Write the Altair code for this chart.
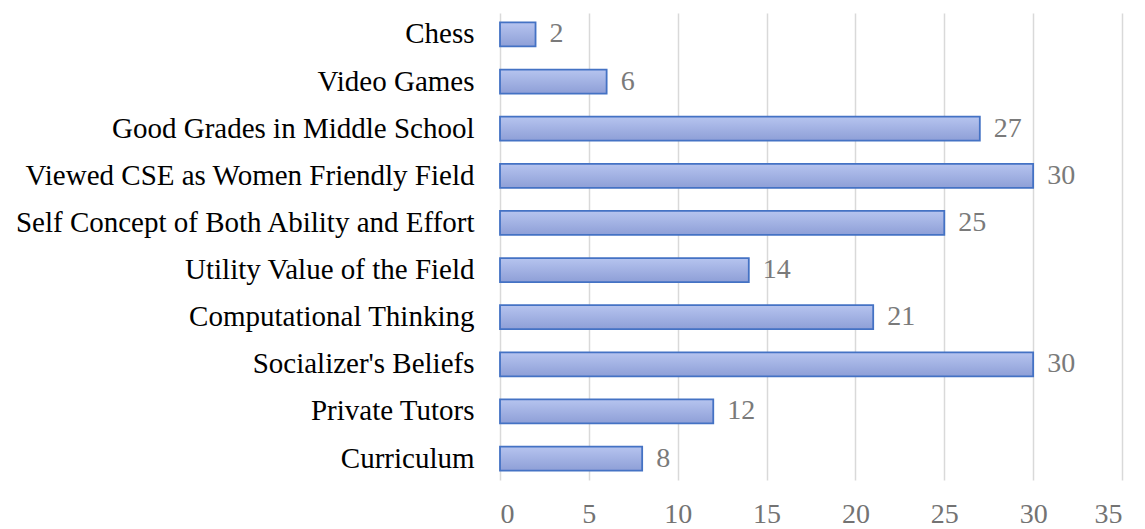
import altair as alt
import pandas as pd

categories = ["Chess", "Video Games", "Good Grades in Middle School",
              "Viewed CSE as Women Friendly Field",
              "Self Concept of Both Ability and Effort",
              "Utility Value of the Field", "Computational Thinking",
              "Socializer's Beliefs\u00a0", "Private Tutors", "Curriculum"]
values = [2, 6, 27, 30, 25, 14, 21, 30, 12, 8]
x_ticks = [0, 5, 10, 15, 20, 25, 30, 35]

df = pd.DataFrame({"category": categories, "value": values})

FONT = "Liberation Serif"

y_enc = alt.Y("category:N", sort=categories, title=None,
              scale=alt.Scale(paddingInner=0.49, paddingOuter=0.2),
              axis=alt.Axis(labelFont=FONT, labelFontSize=29, labelColor="#000000",
                            ticks=False, domain=False, labelPadding=26, labelLimit=700))
x_enc = alt.X("value:Q", title=None,
              scale=alt.Scale(domain=[0, 35], nice=False),
              axis=alt.Axis(values=x_ticks, labelFont=FONT, labelFontSize=28,
                            labelColor="#737373", ticks=False, domain=False,
                            gridColor="#d9d9d9", gridWidth=1.5, labelPadding=20))

gradient = alt.Gradient(gradient="linear",
                        stops=[alt.GradientStop(color="#b6c4ef", offset=0),
                               alt.GradientStop(color="#8e9fd7", offset=1)],
                        x1=0, x2=0, y1=0, y2=1)

bars = alt.Chart(df).mark_bar(color=gradient, stroke="#4472c4", strokeWidth=1.8).encode(
    x=x_enc, y=y_enc)

labels = alt.Chart(df).mark_text(align="left", baseline="middle", dx=14,
                                 font=FONT, fontSize=28, color="#7a7a7a").encode(
    x="value:Q", y=alt.Y("category:N", sort=categories), text="value:Q")

chart = (bars + labels).properties(width=622, height=467).configure_view(stroke=None)

chart.save("out.html", embed_options={"renderer": "svg", "actions": False})
